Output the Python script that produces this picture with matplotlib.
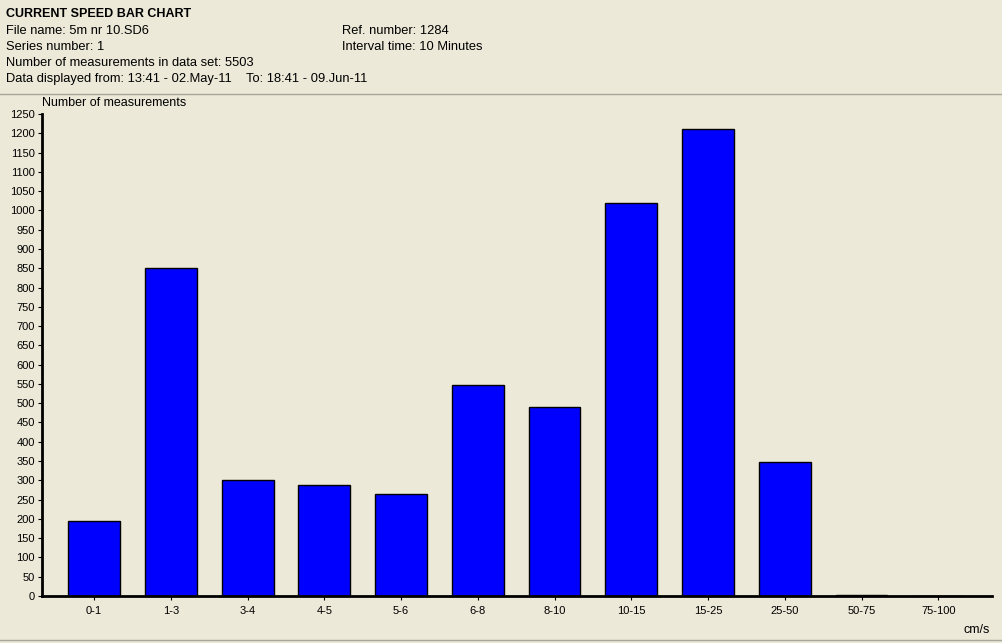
import numpy as np
import matplotlib.pyplot as plt

# bins (cm/s) and counts
categories = ['0-1', '1-3', '3-4', '4-5', '5-6', '6-8', '8-10',
              '10-15', '15-25', '25-50', '50-75', '75-100']
counts = [194, 850, 300, 287, 264, 546, 489, 1018, 1210, 347, 3, 0]
y_ticks = list(range(0, 1251, 50))

header_left = ['File name: 5m nr 10.SD6',
               'Series number: 1',
               'Number of measurements in data set: 5503',
               'Data displayed from: 13:41 - 02.May-11    To: 18:41 - 09.Jun-11']
header_right = ['Ref. number: 1284', 'Interval time: 10 Minutes']

BG = '#ECE9D8'
W, H = 1003, 643
plt.rcParams['font.family'] = ['Liberation Sans', 'DejaVu Sans']

fig = plt.figure(figsize=(W / 100, H / 100), dpi=100, facecolor=BG)


def fx(px):
    return px / W


def fy(py):
    return 1 - py / H


# header block
fig.text(fx(6), fy(14), 'CURRENT SPEED BAR CHART', fontsize=9, fontweight='bold',
         va='center', ha='left')
for i, line in enumerate(header_left):
    fig.text(fx(6), fy(31 + i * 16), line, fontsize=9.3, va='center', ha='left')
for i, line in enumerate(header_right):
    fig.text(fx(342), fy(31 + i * 16), line, fontsize=9.3, va='center', ha='left')

# separator lines
fig.add_artist(plt.Line2D([0, 1], [fy(94), fy(94)], color='#A8A69A', lw=1))
fig.add_artist(plt.Line2D([0, 1], [fy(640), fy(640)], color='#A8A69A', lw=1))

# main axes
left, right, top, bottom = 42, 992, 114, 596
ax = fig.add_axes([fx(left), fy(bottom), fx(right - left), (bottom - top) / H])
ax.set_facecolor(BG)

x = np.arange(len(categories))
ax.bar(x, counts, width=0.675, color='#0000FF', edgecolor='black', linewidth=1)

ax.set_xlim(-0.68, 11.70)
ax.set_ylim(0, 1250)
ax.set_yticks(y_ticks)
ax.set_yticklabels([str(v) for v in y_ticks], fontsize=8)
ax.set_xticks(x)
ax.set_xticklabels(categories, fontsize=8)
ax.tick_params(axis='both', direction='out', length=3, width=0.8, pad=2)
ax.tick_params(axis='x', pad=4)

for s in ['top', 'right']:
    ax.spines[s].set_visible(False)
for s in ['left', 'bottom']:
    ax.spines[s].set_linewidth(2)
    ax.spines[s].set_color('black')

fig.text(fx(42), fy(103), 'Number of measurements', fontsize=9, va='center', ha='left')
fig.text(fx(990), fy(630), 'cm/s', fontsize=9, va='center', ha='right')

fig.savefig('out.png', dpi=100, facecolor=BG)
